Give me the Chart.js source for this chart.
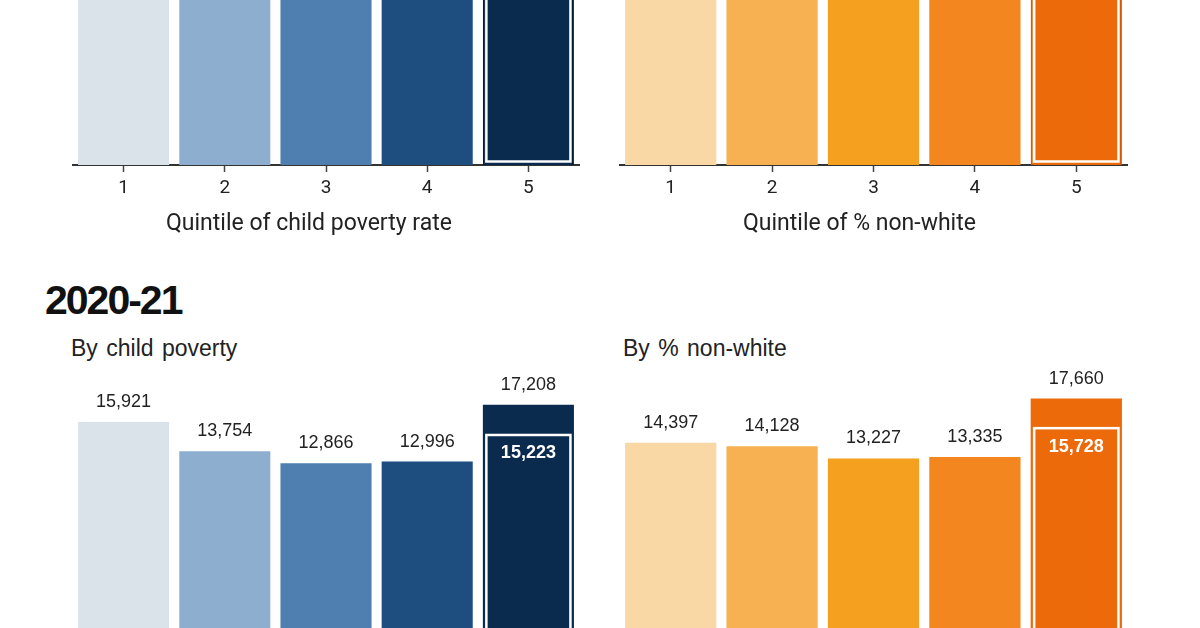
<!DOCTYPE html>
<html>
<head>
<meta charset="utf-8">
<script src="https://cdn.jsdelivr.net/npm/chart.js@4.4.1/dist/chart.umd.min.js"></script>
<style>
  html, body { margin: 0; padding: 0; background: #fff; width: 1200px; height: 628px; overflow: hidden; }
  body { position: relative; }
  canvas { position: absolute; }
  .head { position: absolute; font-family: "Liberation Sans", Arial, sans-serif; color: #1a1a1a; line-height: 1; white-space: pre; }
  .year { left: 45px; top: 280px; font-size: 41px; font-weight: bold; letter-spacing: -2px; color: #111; }
  .sub { top: 337px; font-size: 23px; word-spacing: 2px; color: #222; }
  .axis { position: absolute; top: 211px; font-family: Roboto, sans-serif; font-size: 23px; line-height: 1; color: #222; white-space: pre; }
</style>
</head>
<body>
<canvas id="topPoverty" style="left:0;top:-109px" width="600" height="351"></canvas>
<canvas id="topNonWhite" style="left:600px;top:-109px" width="600" height="351"></canvas>
<div class="axis" style="left:166px">Quintile of child poverty rate</div>
<div class="axis" style="left:743px">Quintile of % non-white</div>

<div class="head year">2020-21</div>
<div class="head sub" style="left:71px">By child poverty</div>
<div class="head sub" style="left:623px">By % non-white</div>

<canvas id="povertyChart" style="left:0;top:357px" width="600" height="283"></canvas>
<canvas id="nonWhiteChart" style="left:600px;top:357px" width="600" height="283"></canvas>

<script>
// categories
const quintiles = ["1", "2", "3", "4", "5"];

// earlier year (upper panels, tops cut off in the picture, values estimated)
const povertyEarlier = [16600, 15100, 14500, 14800, 19000];
const povertyEarlierInner = [null, null, null, null, 16900];
const nonWhiteEarlier = [15500, 15300, 14600, 14900, 19300];
const nonWhiteEarlierInner = [null, null, null, null, 17100];

// 2020-21
const poverty2021 = [15921, 13754, 12866, 12996, 17208];
const poverty2021Inner = [null, null, null, null, 15223];
const nonWhite2021 = [14397, 14128, 13227, 13335, 17660];
const nonWhite2021Inner = [null, null, null, null, 15728];

const blues = ["#dae2ea", "#8eaed0", "#4f7fb0", "#1e4d80", "#0a2a4e"];
const oranges = ["#f9d8a6", "#f8b152", "#f6a01f", "#f4861f", "#ec6a0a"];

// value labels on top of bars + outlined inner bar for quintile 5
const barLabels = {
    id: "barLabels",
    afterDatasetsDraw(chart) {
        const ctx = chart.ctx;
        const outer = chart.getDatasetMeta(0).data;
        const inner = chart.getDatasetMeta(1).data;
        ctx.save();
        ctx.textAlign = "center";
        ctx.textBaseline = "middle";
        outer.forEach((bar, i) => {
            ctx.font = '18px "Liberation Sans", Arial, sans-serif';
            ctx.fillStyle = "#222";
            ctx.fillText(chart.data.datasets[0].data[i].toLocaleString("en-US"), bar.x, bar.y - 20);
        });
        inner.forEach((bar, i) => {
            const v = chart.data.datasets[1].data[i];
            if (v == null) return;
            const half = bar.width / 2;
            ctx.strokeStyle = "#fff";
            ctx.lineWidth = 2.5;
            ctx.strokeRect(bar.x - half + 3.5, bar.y + 3.5, bar.width - 7, bar.base - bar.y - 7);
            ctx.font = 'bold 18px "Liberation Sans", Arial, sans-serif';
            ctx.fillStyle = "#fff";
            ctx.fillText(v.toLocaleString("en-US"), bar.x, bar.y + 22);
        });
        ctx.restore();
    }
};

function makeChart(id, values, innerValues, colors, edge, withAxis, padLeft, padRight) {
    return new Chart(document.getElementById(id), {
        type: "bar",
        data: {
            labels: quintiles,
            datasets: [{
                data: values,
                backgroundColor: colors,
                borderColor: edge,
                borderWidth: withAxis ? [0, 0, 0, 0, 2] : 0,
                borderSkipped: "start",
                barPercentage: 0.9,
                categoryPercentage: 1.0,
            }, {
                data: innerValues,
                backgroundColor: "rgba(0,0,0,0)",
                borderWidth: 0,
                barPercentage: 0.9,
                categoryPercentage: 1.0,
            }]
        },
        options: {
            responsive: false,
            animation: false,
            events: [],
            layout: { padding: { left: padLeft, right: padRight, top: withAxis ? 5 : 10, bottom: withAxis ? 37.2 : 3 } },
            plugins: {
                legend: { display: false },
                tooltip: { enabled: false },
            },
            scales: {
                x: {
                    display: withAxis,
                    stacked: true,
                    offset: true,
                    z: 1,
                    grid: {
                        display: true,
                        offset: false,
                        drawOnChartArea: false,
                        drawTicks: true,
                        tickLength: 7,
                        tickWidth: 1.5,
                        tickColor: "#444",
                    },
                    border: { display: true, color: "#333", width: 2 },
                    ticks: { color: "#222", padding: 5, font: { family: "Roboto", size: 19 } },
                },
                y: { display: false, min: 0, max: 20000 },
            }
        },
        plugins: [barLabels]
    });
}

makeChart("topPoverty", povertyEarlier, povertyEarlierInner, blues, "#051a33", true, 73, 21);
makeChart("topNonWhite", nonWhiteEarlier, nonWhiteEarlierInner, oranges, "#d45a05", true, 20, 73);
makeChart("povertyChart", poverty2021, poverty2021Inner, blues, blues[4], false, 73, 21);
makeChart("nonWhiteChart", nonWhite2021, nonWhite2021Inner, oranges, oranges[4], false, 20, 73);
</script>
</body>
</html>
